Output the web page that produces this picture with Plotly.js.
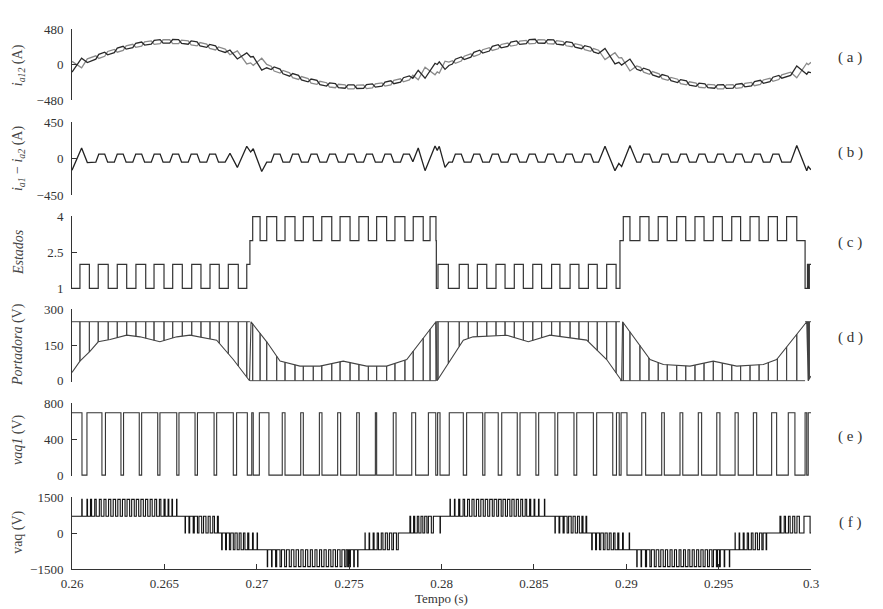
<!DOCTYPE html>
<html><head><meta charset="utf-8">
<script src="https://cdn.plot.ly/plotly-3.0.1.min.js"></script>
<style>html,body{margin:0;padding:0;background:#fff}#chart{width:883px;height:609px}</style>
</head><body><div id="chart"></div>
<script>
// ---------- x axis ----------
const xTickVals = [0.26, 0.265, 0.27, 0.275, 0.28, 0.285, 0.29, 0.295, 0.3];
const xTickText = ['0.26', '0.265', '0.27', '0.275', '0.28', '0.285', '0.29', '0.295', '0.3'];

// ---------- (a) mean leg current, read every 1 ms ----------
const iaAvgT = [0.260,0.261,0.262,0.263,0.264,0.265,0.266,0.267,0.268,0.269,0.270,0.271,0.272,0.273,0.274,0.275,0.276,0.277,0.278,0.279,0.280,
                0.281,0.282,0.283,0.284,0.285,0.286,0.287,0.288,0.289,0.290,0.291,0.292,0.293,0.294,0.295,0.296,0.297,0.298,0.299,0.300];
const iaAvg  = [-30,68,160,236,289,314,307,272,210,126,30,-66,-155,-228,-280,-304,-298,-263,-202,-121,-29,
                68,160,236,289,314,307,272,212,130,12,-82,-168,-236,-283,-303,-294,-257,-196,-118,-40];

// ---------- (b) i_a1 - i_a2 vertices ----------
const diffT = [
 0.26000,0.26052,0.26083,
 0.26129,0.26145,0.26177,0.26193, 0.26229,0.26245,0.26277,0.26293, 0.26329,0.26345,0.26377,0.26393,
 0.26429,0.26445,0.26477,0.26493, 0.26529,0.26545,0.26577,0.26593, 0.26629,0.26645,0.26677,0.26693,
 0.26729,0.26745,0.26777,0.26793,
 0.26829,0.26855,0.26895,0.26946,0.26967,0.26981,0.27027,0.27054,
 0.27078,0.27094,0.27126,0.27142, 0.27178,0.27194,0.27226,0.27242, 0.27278,0.27294,0.27326,0.27342,
 0.27378,0.27394,0.27426,0.27442, 0.27478,0.27494,0.27526,0.27542, 0.27578,0.27594,0.27626,0.27642,
 0.27678,0.27694,0.27726,0.27742, 0.27778,0.27794,0.27826,0.27845,
 0.27874,0.27911,0.27965,0.27977,0.27988,0.28019,0.28040,
 0.28059,0.28075,0.28107,0.28123, 0.28159,0.28175,0.28207,0.28223, 0.28259,0.28275,0.28307,0.28323,
 0.28359,0.28375,0.28407,0.28423, 0.28459,0.28475,0.28507,0.28523, 0.28559,0.28575,0.28607,0.28623,
 0.28659,0.28675,0.28707,0.28723, 0.28759,0.28775,0.28807,0.28823,
 0.28850,0.28885,0.28939,0.28960,0.28975,0.29020,0.29057,
 0.29078,0.29094,0.29126,0.29142, 0.29178,0.29194,0.29226,0.29242, 0.29278,0.29294,0.29326,0.29342,
 0.29378,0.29394,0.29426,0.29442, 0.29478,0.29494,0.29526,0.29542, 0.29578,0.29594,0.29626,0.29642,
 0.29678,0.29694,0.29726,0.29742, 0.29778,0.29794,0.29826,0.29842,
 0.29890,0.29923,0.29977,0.29985,0.30000];
const diffV = [
 -145,130,-50,
 -45,55,55,-45, -45,55,55,-45, -45,55,55,-45,
 -45,55,55,-45, -45,55,55,-45, -45,55,55,-45,
 -45,55,55,-45,
 -45,65,-110,150,80,120,-160,-45,
 -45,55,55,-45, -45,55,55,-45, -45,55,55,-45,
 -45,55,55,-45, -45,55,55,-45, -45,55,55,-45,
 -45,55,55,-45, -45,55,55,-40,
 130,-150,155,100,150,-110,-45,
 -45,55,55,-45, -45,55,55,-45, -45,55,55,-45,
 -45,55,55,-45, -45,55,55,-45, -45,55,55,-45,
 -45,55,55,-45, -45,55,55,-45,
 -45,150,-150,-60,-100,160,-45,
 -45,55,55,-45, -45,55,55,-45, -45,55,55,-45,
 -45,55,55,-45, -45,55,55,-45, -45,55,55,-45,
 -45,55,55,-45, -45,55,55,-45,
 -45,160,-150,-100,-140];

// ---------- (c) states: switching instants and state after each ----------
const stateT = [
 0.26000,0.26043,0.26094,0.26142,0.26196,0.26245,0.26296,0.26346,0.26399,0.26444,0.26498,0.26545,0.26597,0.26648,0.26698,0.26747,0.26797,0.26846,0.26900,0.26946,
 0.26963,0.26978,0.27018,0.27054,0.27108,0.27153,0.27207,0.27252,0.27306,0.27352,0.27406,0.27451,0.27505,0.27553,0.27604,0.27649,0.27703,0.27748,0.27802,0.27847,0.27901,0.27938,0.27970,
 0.27972,0.27981,
 0.28037,0.28096,0.28145,0.28194,0.28245,0.28295,0.28344,0.28394,0.28443,0.28494,0.28542,0.28596,0.28641,0.28696,0.28744,0.28795,0.28843,0.28894,0.28945,
 0.28966,0.28984,0.29020,0.29074,0.29123,0.29173,0.29222,0.29273,0.29322,0.29372,0.29421,0.29471,0.29520,0.29571,0.29619,0.29670,0.29719,0.29769,0.29818,0.29868,0.29923,
 0.29968,0.29981,0.29986,0.29991];
const stateV = [
 1,2,1,2,1,2,1,2,1,2,1,2,1,2,1,2,1,2,1,2,
 3,4,3,4,3,4,3,4,3,4,3,4,3,4,3,4,3,4,3,4,3,4,3,
 1,2,
 1,2,1,2,1,2,1,2,1,2,1,2,1,2,1,2,1,2,1,
 3,4,3,4,3,4,3,4,3,4,3,4,3,4,3,4,3,4,3,4,3,
 1,2,1,2];

// ---------- (d) modulating curve of the carrier plot ----------
const portCurveT = [
 0.26000,0.26043,0.26097,0.26142,0.26206,0.26296,0.26368,0.26476,0.26567,0.26639,0.26783,0.26873,0.26961,
 0.26969,0.27054,0.27126,0.27234,0.27342,0.27468,0.27595,0.27703,0.27812,0.27970,
 0.27976,0.28118,0.28171,0.28353,0.28470,0.28587,0.28786,0.28894,0.28975,
 0.28980,0.29129,0.29201,0.29345,0.29471,0.29598,0.29742,0.29814,0.29977,0.29985,0.30000];
const portCurveV = [
 35,83,124,165,175,193,186,165,186,193,172,90,0,
 250,165,83,62,62,83,62,62,90,250,
 0,172,186,193,165,193,172,90,0,
 250,90,69,62,83,62,69,90,250,0,20];
const portTop = 250, portBottom = 0;

// ---------- (e) vaq1: switching instants and level after each ----------
const vaq1T = [
 0.26000,0.26054,0.26081,0.26162,0.26181,0.26265,0.26279,0.26364,0.26377,0.26464,0.26476,0.26567,0.26579,0.26666,0.26679,0.26769,0.26783,0.26873,0.26891,0.26949,0.26973,0.26981,0.27014,0.27066,
 0.27138,0.27153,0.27238,0.27252,0.27339,0.27353,0.27438,0.27454,0.27541,0.27555,0.27642,0.27649,0.27739,0.27754,0.27839,0.27860,0.27929,0.27969,0.27979,0.27992,0.28042,
 0.28118,0.28136,0.28223,0.28235,0.28307,0.28326,0.28410,0.28425,0.28511,0.28526,0.28614,0.28629,0.28717,0.28732,0.28822,0.28840,0.28927,0.28947,0.28962,0.28972,0.29004,
 0.29084,0.29105,0.29192,0.29206,0.29291,0.29306,0.29390,0.29408,0.29490,0.29507,0.29589,0.29606,0.29688,0.29706,0.29787,0.29814,0.29877,0.29913,0.29968,0.29977,0.29985];
const vaq1V = [
 700,0,700,0,700,0,700,0,700,0,700,0,700,0,700,0,700,0,700,0,700,0,700,0,
 700,0,700,0,700,0,700,0,700,0,700,0,700,0,700,0,700,0,700,0,700,
 0,700,0,700,0,700,0,700,0,700,0,700,0,700,0,700,0,700,0,700,0,
 700,0,700,0,700,0,700,0,700,0,700,0,700,0,700,0,700,0,700,0,700];

// ---------- (f) vaq: base staircase plus pulses ----------
const vaqBaseT = [0.26000,0.26792,0.26981,0.27766,0.27956,0.28786,0.28984,0.29760];
const vaqBaseV = [700,0,-700,0,700,0,-700,0];
const vaqPulseT = [
 0.26053,0.26081,0.26100,0.26123,0.26148,0.26173,0.26198,0.26223,0.26248,0.26273,0.26298,0.26323,0.26348,0.26373,0.26398,0.26423,0.26448,0.26473,0.26498,0.26520,0.26541,0.26566,
 0.26612,0.26633,0.26656,0.26679,0.26702,0.26725,0.26748,0.26771,
 0.26810,0.26831,0.26852,0.26873,0.26894,0.26915,0.26936,0.26957,0.27002,
 0.27057,0.27080,0.27102,0.27126,0.27151,0.27176,0.27201,0.27226,0.27251,0.27276,0.27301,0.27326,0.27351,0.27376,0.27401,0.27426,0.27451,0.27476,0.27492,0.27503,0.27525,0.27546,
 0.27586,0.27608,0.27630,0.27652,0.27674,0.27696,0.27718,0.27740,
 0.27829,0.27849,0.27869,0.27889,0.27909,0.27929,0.27992,
 0.28046,0.28070,0.28093,0.28117,0.28141,0.28165,0.28189,0.28213,0.28237,0.28261,0.28285,0.28309,0.28333,0.28357,0.28381,0.28405,0.28429,0.28453,0.28477,0.28501,0.28525,0.28557,
 0.28614,0.28636,0.28658,0.28680,0.28702,0.28724,0.28746,0.28766,
 0.28813,0.28834,0.28855,0.28876,0.28897,0.28918,0.28939,0.28960,0.29016,
 0.29057,0.29080,0.29104,0.29128,0.29152,0.29176,0.29200,0.29224,0.29248,0.29272,0.29296,0.29320,0.29344,0.29368,0.29392,0.29416,0.29440,0.29464,0.29488,0.29505,0.29530,0.29558,
 0.29589,0.29611,0.29633,0.29655,0.29677,0.29699,0.29721,0.29741,
 0.29832,0.29855,0.29878,0.29901,0.29924,0.29962];
const vaqPulseW = [
 0.00002,0.00003,0.00006,0.00008,0.00010,0.00011,0.00012,0.00013,0.00013,0.00014,0.00014,0.00014,0.00013,0.00013,0.00012,0.00011,0.00010,0.00008,0.00006,0.00004,0.00003,0.00002,
 0.00002,0.00004,0.00006,0.00008,0.00010,0.00012,0.00014,0.00016,
 0.00003,0.00005,0.00007,0.00009,0.00011,0.00013,0.00015,0.00020,0.00002,
 0.00002,0.00003,0.00006,0.00008,0.00010,0.00011,0.00012,0.00013,0.00013,0.00014,0.00014,0.00014,0.00013,0.00013,0.00012,0.00011,0.00010,0.00008,0.00006,0.00004,0.00003,0.00002,
 0.00001,0.00003,0.00005,0.00007,0.00009,0.00011,0.00013,0.00016,
 0.00004,0.00006,0.00008,0.00010,0.00012,0.00016,0.00002,
 0.00002,0.00003,0.00006,0.00008,0.00010,0.00011,0.00012,0.00013,0.00013,0.00014,0.00014,0.00014,0.00013,0.00013,0.00012,0.00011,0.00010,0.00008,0.00006,0.00004,0.00003,0.00002,
 0.00002,0.00004,0.00006,0.00008,0.00010,0.00012,0.00014,0.00016,
 0.00003,0.00005,0.00007,0.00009,0.00011,0.00013,0.00015,0.00020,0.00002,
 0.00002,0.00003,0.00006,0.00008,0.00010,0.00011,0.00012,0.00013,0.00013,0.00014,0.00014,0.00014,0.00013,0.00013,0.00012,0.00011,0.00010,0.00008,0.00006,0.00004,0.00003,0.00002,
 0.00001,0.00003,0.00005,0.00007,0.00009,0.00011,0.00013,0.00016,
 0.00005,0.00007,0.00009,0.00011,0.00013,0.00033];
const vaqPulseV = [
 1400,1400,1400,1400,1400,1400,1400,1400,1400,1400,1400,1400,1400,1400,1400,1400,1400,1400,1400,1400,1400,1400,
 0,0,0,0,0,0,0,0,
 -700,-700,-700,-700,-700,-700,-700,-700,0,
 -1400,-1400,-1400,-1400,-1400,-1400,-1400,-1400,-1400,-1400,-1400,-1400,-1400,-1400,-1400,-1400,-1400,-1400,-1400,-1400,-1400,-1400,
 0,0,0,0,0,0,0,0,
 700,700,700,700,700,700,0,
 1400,1400,1400,1400,1400,1400,1400,1400,1400,1400,1400,1400,1400,1400,1400,1400,1400,1400,1400,1400,1400,1400,
 0,0,0,0,0,0,0,0,
 -700,-700,-700,-700,-700,-700,-700,-700,0,
 -1400,-1400,-1400,-1400,-1400,-1400,-1400,-1400,-1400,-1400,-1400,-1400,-1400,-1400,-1400,-1400,-1400,-1400,-1400,-1400,-1400,-1400,
 0,0,0,0,0,0,0,0,
 700,700,700,700,700,700];

// ---------- labels ----------
const yTitles = ['<i>i</i><sub><i>a12</i></sub> (A)', '<i>i</i><sub><i>a1</i></sub> − <i>i</i><sub><i>a2</i></sub> (A)',
                 '<i>Estados</i>', '<i>Portadora</i> (V)', '<i>vaq1</i> (V)', 'vaq (V)'];
const panelTags = ['( a )', '( b )', '( c )', '( d )', '( e )', '( f )'];

// ---------- helpers ----------
const T_END = 0.30;
function interp(xs, ys, t) {
  if (t <= xs[0]) return ys[0];
  for (let i = 1; i < xs.length; i++) {
    if (t <= xs[i]) { const d = xs[i] - xs[i-1]; const f = d > 0 ? (t - xs[i-1]) / d : 1; return ys[i-1] + f * (ys[i] - ys[i-1]); }
  }
  return ys[ys.length - 1];
}
function stepXY(T, V) {
  const n = Math.min(T.length, V.length);
  const x = T.slice(0, n), y = V.slice(0, n);
  x.push(T_END); y.push(y[n-1]);
  return {x, y};
}

// (a)
const ia1 = diffT.map((t, i) => interp(iaAvgT, iaAvg, t) + diffV[i] / 2);
const ia2 = diffT.map((t, i) => interp(iaAvgT, iaAvg, t) - diffV[i] / 2);

// (c)
const st = stepXY(stateT, stateV);
const e1 = stepXY(vaq1T, vaq1V);

// (d) carrier: verticals at the state switching instants
const cx = [], cy = [];
(function(){
  let prev = stateV[0];
  let base = prev <= 2 ? portTop : portBottom;
  cx.push(stateT[0]); cy.push(base);
  const n = Math.min(stateT.length, stateV.length);
  for (let i = 1; i < n; i++) {
    const t = stateT[i], s = stateV[i];
    const sameBand = (prev <= 2) === (s <= 2);
    if (sameBand) { cx.push(t, t, t); cy.push(base, interp(portCurveT, portCurveV, t), base); }
    else { const nb = s <= 2 ? portTop : portBottom; cx.push(t, null, t); cy.push(base, null, nb); base = nb; }
    prev = s;
  }
  cx.push(T_END); cy.push(base);
})();

// (f)
const fx = [], fy = [];
(function(){
  const ev = [];
  vaqBaseT.forEach((t, i) => ev.push({t, k: 0, v: vaqBaseV[i]}));
  const n = Math.min(vaqPulseT.length, vaqPulseW.length, vaqPulseV.length);
  for (let i = 0; i < n; i++) { ev.push({t: vaqPulseT[i], k: 1, v: vaqPulseV[i]}); ev.push({t: vaqPulseT[i] + vaqPulseW[i], k: 2}); }
  ev.sort((a, b) => a.t - b.t || a.k - b.k);
  let base = vaqBaseV[0], inP = false, pv = 0;
  ev.forEach(e => {
    if (e.k === 0) base = e.v; else if (e.k === 1) { inP = true; pv = e.v; } else inP = false;
    fx.push(e.t); fy.push(inP ? pv : base);
  });
  fx.push(T_END); fy.push(inP ? pv : base);
})();

const DARK = '#222', serif = 'Liberation Serif, DejaVu Serif, serif';
const traces = [
  {x: diffT, y: ia2, yaxis: 'y', mode: 'lines', line: {color: '#8a8a8a', width: 1.3}},
  {x: diffT, y: ia1, yaxis: 'y', mode: 'lines', line: {color: '#2a2a2a', width: 1.3}},
  {x: diffT, y: diffV, yaxis: 'y2', mode: 'lines', line: {color: DARK, width: 1.3}},
  {x: st.x, y: st.y, yaxis: 'y3', mode: 'lines', line: {color: '#333', width: 1.2, shape: 'hv'}},
  {x: portCurveT, y: portCurveV, yaxis: 'y4', mode: 'lines', line: {color: '#444', width: 1.1}},
  {x: cx, y: cy, yaxis: 'y4', mode: 'lines', line: {color: '#444', width: 1.0}, connectgaps: false},
  {x: e1.x, y: e1.y, yaxis: 'y5', mode: 'lines', line: {color: '#333', width: 1.1, shape: 'hv'}},
  {x: fx, y: fy, yaxis: 'y6', mode: 'lines', line: {color: '#111', width: 1.1, shape: 'hv'}}
];
traces.forEach(t => { t.xaxis = 'x'; t.hoverinfo = 'skip'; t.showlegend = false; });

function yax(domain, range, vals, text) {
  return {domain, range, anchor: 'x', showline: true, linecolor: '#333', linewidth: 1,
    ticks: 'inside', ticklen: 5, tickcolor: '#333', tickwidth: 1, showgrid: false, zeroline: false,
    tickmode: 'array', tickvals: vals, ticktext: text, ticklabelstandoff: 5,
    tickfont: {family: serif, size: 13, color: '#333'}, fixedrange: true};
}

const layout = {
  width: 883, height: 609, paper_bgcolor: '#fff', plot_bgcolor: '#fff',
  margin: {l: 72, r: 72, t: 29, b: 40}, showlegend: false,
  xaxis: {domain: [0, 1], range: [0.26, 0.3], anchor: 'y6', showline: true, linecolor: '#333', linewidth: 1,
    ticks: 'inside', ticklen: 5, tickcolor: '#333', showgrid: false, zeroline: false,
    tickmode: 'array', tickvals: xTickVals, ticktext: xTickText, ticklabelstandoff: 2,
    tickfont: {family: serif, size: 13, color: '#333'}, fixedrange: true},
  yaxis:  yax([0.8685, 1.0],    [-480, 480],   [-480, 0, 480],   ['−480', '0', '480']),
  yaxis2: yax([0.6926, 0.8278], [-450, 450],   [-450, 0, 450],   ['−450', '0', '450']),
  yaxis3: yax([0.5185, 0.6537], [0.97, 4.03],  [1, 2.5, 4],      ['1', '2.5', '4']),
  yaxis4: yax([0.3469, 0.4815], [-4, 304],     [0, 150, 300],    ['0', '150', '300']),
  yaxis5: yax([0.1722, 0.3074], [-10, 810],    [0, 400, 800],    ['0', '400', '800']),
  yaxis6: yax([0.0, 0.1333],    [-1500, 1500], [-1500, 0, 1500], ['−1500', '0', '1500']),
  annotations: []
};
const titleY = [0.933, 0.761, 0.587, 0.415, 0.239, 0.067];
const tagY = [0.948, 0.772, 0.604, 0.428, 0.246, 0.087];
yTitles.forEach((txt, i) => layout.annotations.push({text: txt, xref: 'paper', yref: 'paper', x: -0.073, y: titleY[i],
  textangle: -90, showarrow: false, xanchor: 'center', yanchor: 'middle', font: {family: serif, size: 14, color: '#444'}}));
panelTags.forEach((txt, i) => layout.annotations.push({text: txt, xref: 'paper', yref: 'paper', x: 1.053, y: tagY[i],
  showarrow: false, xanchor: 'center', yanchor: 'middle', font: {family: serif, size: 15, color: '#333'}}));
layout.annotations.push({text: 'Tempo (s)', xref: 'paper', yref: 'paper', x: 0.5, y: -0.054, showarrow: false,
  xanchor: 'center', yanchor: 'middle', font: {family: serif, size: 13, color: '#333'}});

Plotly.newPlot('chart', traces, layout, {staticPlot: true, displayModeBar: false});
</script></body></html>
